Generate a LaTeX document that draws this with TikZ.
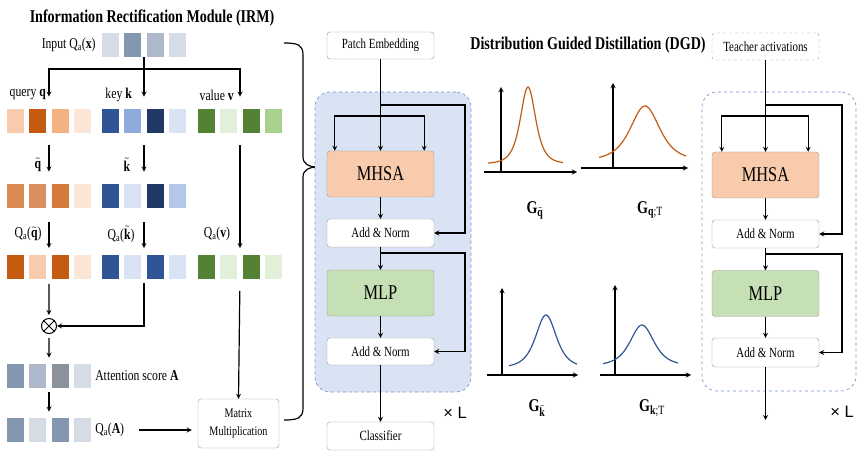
\documentclass[tikz,border=0pt]{standalone}
\usepackage{fontspec}
\setmainfont{Liberation Serif}[FakeStretch=0.78]
\newfontfamily\sansf{Liberation Sans}
\usepackage{xcolor}
\usepackage{tikz}
\usetikzlibrary{arrows,positioning,fit,calc}
\definecolor{or1}{HTML}{F8CBAD}
\definecolor{or2}{HTML}{C55A11}
\definecolor{or3}{HTML}{F4B183}
\definecolor{or4}{HTML}{FBE5D6}
\definecolor{or5}{HTML}{DA8A55}
\definecolor{or6}{HTML}{D98E5E}
\definecolor{or7}{HTML}{D47A3C}
\definecolor{bl1}{HTML}{2F5597}
\definecolor{bl2}{HTML}{8FAADC}
\definecolor{bl3}{HTML}{203864}
\definecolor{bl4}{HTML}{DAE3F3}
\definecolor{bl5}{HTML}{B4C7E7}
\definecolor{gr1}{HTML}{548235}
\definecolor{gr2}{HTML}{E2F0D9}
\definecolor{gr3}{HTML}{A9D18E}
\definecolor{gy1}{HTML}{D6DCE5}
\definecolor{gy2}{HTML}{8497B0}
\definecolor{gy3}{HTML}{ADB9CA}
\definecolor{gy4}{HTML}{8B929C}
\definecolor{regfill}{HTML}{DAE3F3}
\definecolor{regline}{HTML}{7C97C9}
\definecolor{mhsafill}{HTML}{F8CBAD}
\definecolor{mlpfill}{HTML}{C5E0B4}
\newcommand{\tq}{$\tilde{\mbox{\textbf{q}}}$}
\newcommand{\tk}{$\tilde{\mbox{\textbf{k}}}$}

\begin{document}
\begin{tikzpicture}[x=1pt, y=-1pt,
    cell/.style={minimum width=17, minimum height=24, inner sep=0},
    row/.style={inner sep=0},
    lbl/.style={font=\fontsize{15}{17}\selectfont, inner sep=1pt},
    title/.style={font=\fontsize{18}{20}\selectfont\bfseries},
    box/.style={draw=black!40, rounded corners=3, fill=white, minimum width=107, minimum height=28, inner sep=0, font=\fontsize{14}{15}\selectfont},
    block/.style={box, minimum height=46, font=\fontsize{21}{23}\selectfont},
    region/.style={draw=regline, dashed, rounded corners=15, line width=0.7pt},
    times/.style={font=\sansf\fontsize{16.5}{18}\selectfont},
    glbl/.style={font=\fontsize{18}{20}\selectfont},
    arrow/.style={->, >=stealth, line width=1.2pt},
    axis/.style={->, >=stealth, line width=1.3pt},
    qcurve/.style={color=or2, line width=1.2pt},
    kcurve/.style={color=bl1, line width=1.2pt}
]
\useasboundingbox (0,0) rectangle (865,454);

% Information rectification module
\node[title] (irm) at (152,18) {Information Rectification Module (IRM)};
\foreach \c [count=\i] in {gy1,gy2,gy3,gy1} \node[cell, fill=\c] (in\i) at (88.2+22.3*\i,45) {};
\node[row, fit=(in1)(in4)] (inrow) {};
\node[lbl, left=5pt of in1] (inlbl) {Input Q\textsubscript{a}(\textbf{x})};

% query, key, value
\foreach \c [count=\i] in {or1,or2,or3,or4} \node[cell, fill=\c] (q\i) at (-6.8+22.3*\i,121) {};
\foreach \c [count=\i] in {bl1,bl2,bl3,bl4} \node[cell, fill=\c] (k\i) at (88.2+22.3*\i,121) {};
\foreach \c [count=\i] in {gr1,gr2,gr1,gr3} \node[cell, fill=\c] (v\i) at (184.2+22.3*\i,121) {};
\node[row, fit=(q1)(q4)] (qrow) {};
\node[row, fit=(k1)(k4)] (krow) {};
\node[row, fit=(v1)(v4)] (vrow) {};
\node[lbl, anchor=east] (qlbl) at (47,95) {query \textbf{q}};
\node[lbl, anchor=east] (klbl) at (133,95) {key \textbf{k}};
\node[lbl, anchor=east] (vlbl) at (235,95) {value \textbf{v}};

% rectified query and key
\foreach \c [count=\i] in {or5,or6,or7,or4} \node[cell, fill=\c] (qt\i) at (-6.8+22.3*\i,196) {};
\foreach \c [count=\i] in {bl1,bl4,bl3,bl5} \node[cell, fill=\c] (kt\i) at (88.2+22.3*\i,196) {};
\node[row, fit=(qt1)(qt4)] (qtrow) {};
\node[row, fit=(kt1)(kt4)] (ktrow) {};
\node[lbl] (qtlbl) at (38,165) {\tq};
\node[lbl] (ktlbl) at (127,165) {\tk};

% quantized
\foreach \c [count=\i] in {or2,or1,or2,or4} \node[cell, fill=\c] (qa\i) at (-6.8+22.3*\i,267.5) {};
\foreach \c [count=\i] in {bl1,bl4,bl1,bl4} \node[cell, fill=\c] (ka\i) at (88.2+22.3*\i,267.5) {};
\foreach \c [count=\i] in {gr1,gr2,gr1,gr2} \node[cell, fill=\c] (va\i) at (184.2+22.3*\i,267.5) {};
\node[row, fit=(qa1)(qa4)] (qarow) {};
\node[row, fit=(ka1)(ka4)] (karow) {};
\node[row, fit=(va1)(va4)] (varow) {};
\node[lbl] (qalbl) at (28,234) {Q\textsubscript{a}(\tq)};
\node[lbl] (kalbl) at (121,234) {Q\textsubscript{a}(\tk)};
\node[lbl] (valbl) at (217,234) {Q\textsubscript{a}(\textbf{v})};

% attention
\node[circle, draw, minimum size=15, inner sep=0, line width=1pt,
  path picture={\draw[line width=1pt] (path picture bounding box.north west) -- (path picture bounding box.south east)
  (path picture bounding box.north east) -- (path picture bounding box.south west);}] (otimes) at (49,326) {};
\foreach \c [count=\i] in {gy2,gy3,gy4,gy1} \node[cell, fill=\c] (att\i) at (-6.8+22.3*\i,376) {};
\foreach \c [count=\i] in {gy2,gy1,gy2,gy1} \node[cell, fill=\c] (aq\i) at (-6.8+22.3*\i,430) {};
\node[row, fit=(att1)(att4)] (attrow) {};
\node[row, fit=(aq1)(aq4)] (aqrow) {};
\node[lbl, right=3pt of att4] (attlbl) {Attention score \textbf{A}};
\node[lbl, right=3pt of aq4] (aqlbl) {Q\textsubscript{a}(\textbf{A})};
\node[box, minimum width=81, minimum height=49, align=center, font=\fontsize{13}{18}\selectfont] (matmul) at (238.5,423.5) {Matrix\\Multiplication};

\coordinate (sp0) at (inrow.south |- 0,69);
\draw[arrow, shorten >=12pt] (inrow.south) -- (krow.north);
\draw[arrow, shorten >=12pt] (sp0) -| (qrow.north);
\draw[arrow, shorten >=12pt] (sp0) -| (vrow.north);
\draw[arrow, shorten <=12pt, shorten >=12pt] (qrow.south) -- (qtrow.north);
\draw[arrow, shorten <=12pt, shorten >=12pt] (krow.south) -- (ktrow.north);
\draw[arrow, shorten <=14pt, shorten >=7pt] (qtrow.south) -- (qarow.north);
\draw[arrow, shorten <=14pt, shorten >=7pt] (ktrow.south) -- (karow.north);
\draw[arrow, shorten <=12pt, shorten >=7pt] (vrow.south) -- (varow.north);
\draw[arrow, shorten <=4pt, shorten >=3pt] (qarow.south) -- (otimes);
\draw[arrow, shorten <=3pt] (karow.south) |- (otimes);
\draw[arrow, shorten <=4pt, shorten >=6pt] (otimes) -- (attrow.north);
\draw[arrow, shorten <=4pt, shorten >=6pt] (attrow.south) -- (aqrow.north);
\draw[arrow, shorten <=14pt, shorten >=6pt] (aqlbl.east) -- (aqlbl.east -| matmul.west);
\draw[arrow, shorten <=11pt] (varow.south) -- (matmul.north);

% brace
\draw[line width=1.2pt] (284,43) .. controls (298,43) and (303,45) .. (303,55) -- (303,157)
  .. controls (303,164) and (309,167) .. (318,167) .. controls (309,167) and (303,170) .. (303,177)
  -- (303,408) .. controls (303,418) and (298,420) .. (284,420);

% student transformer
\node[region, fill=regfill, minimum width=156, minimum height=300] (sblock) at (393,242) {};
\node[box, minimum height=27] (patch) at (380.5,45.5) {Patch Embedding};
\node[block, fill=mhsafill] (mhsa) at (380.5,174) {MHSA};
\node[box] (an1) at (380.5,233) {Add \& Norm};
\node[block, fill=mlpfill] (mlp) at (380.5,293) {MLP};
\node[box, minimum height=27] (an2) at (380.5,351.5) {Add \& Norm};
\node[box] (cls) at (380.5,436) {Classifier};
\node[times] (xl1) at (455,413) {× L};
\coordinate (sp1) at (patch.south |- 0,105);
\coordinate (sp2) at (patch.south |- 0,116);
\coordinate (sp3) at (an1.south |- 0,253);
\draw[arrow] (patch) -- (mhsa);
\draw[arrow] (sp1) -- ++(84.5,0) |- (an1.east);
\draw[arrow] (sp2) -| ([xshift=8pt]mhsa.north west);
\draw[arrow] (sp2) -| ([xshift=-10pt]mhsa.north east);
\draw[arrow] (mhsa) -- (an1);
\draw[arrow] (an1) -- (mlp);
\draw[arrow] (sp3) -- ++(84.5,0) |- (an2.east);
\draw[arrow] (mlp) -- (an2);
\draw[arrow] (an2) -- (cls);

% distribution guided distillation
\node[title] (dgd) at (588,45) {Distribution Guided Distillation (DGD)};
\draw[axis] (484,172) -- (577,172);
\draw[axis] (501,172) -- (501,87);
\draw[qcurve] plot[domain=488:563, samples=70, smooth] (\x,{164-77/(1+((\x-528)/14)^2)^2});
\draw[axis] (581,168) -- (688,168);
\draw[axis] (613,168) -- (613,83);
\draw[qcurve] plot[domain=599:686, samples=70, smooth] (\x,{161-55/(1+((\x-645)/27)^2)^2});
\draw[axis] (487,375) -- (578,375);
\draw[axis] (502,375) -- (502,288);
\draw[kcurve] plot[domain=509:577, samples=70, smooth] (\x,{368-53/(1+((\x-546)/19)^2)^2});
\draw[axis] (600,375) -- (691,375);
\draw[axis] (615,375) -- (615,285);
\draw[kcurve] plot[domain=603:678, samples=70, smooth] (\x,{366-41/(1+((\x-642)/22)^2)^2});
\node[glbl] (gq) at (535,210) {\textbf{G}\textsubscript{\tq}};
\node[glbl] (gqt) at (650,210) {\textbf{G}\textsubscript{\textbf{q};T}};
\node[glbl] (gk) at (537,408) {\textbf{G}\textsubscript{\tk}};
\node[glbl] (gkt) at (652,408) {\textbf{G}\textsubscript{\textbf{k};T}};

% teacher transformer
\node[region, minimum width=154, minimum height=299] (tblock) at (779,241.5) {};
\node[box, dashed, minimum height=27] (teach) at (765.5,46.5) {Teacher activations};
\node[block, fill=mhsafill] (tmhsa) at (765.5,175) {MHSA};
\node[box] (tan1) at (765.5,234) {Add \& Norm};
\node[block, fill=mlpfill] (tmlp) at (765.5,293.5) {MLP};
\node[box, minimum height=29] (tan2) at (765.5,352.5) {Add \& Norm};
\node[times] (xl2) at (842,412) {× L};
\coordinate (tsp1) at (teach.south |- 0,105);
\coordinate (tsp2) at (teach.south |- 0,116);
\coordinate (tsp3) at (tan1.south |- 0,254);
\coordinate (tout) at (tan2.south |- 0,420);
\draw[arrow] (teach) -- (tmhsa);
\draw[arrow] (tsp1) -- ++(76.5,0) |- (tan1.east);
\draw[arrow] (tsp2) -| ([xshift=10pt]tmhsa.north west);
\draw[arrow] (tsp2) -| ([xshift=-11pt]tmhsa.north east);
\draw[arrow] (tmhsa) -- (tan1);
\draw[arrow] (tan1) -- (tmlp);
\draw[arrow] (tsp3) -- ++(76.5,0) |- (tan2.east);
\draw[arrow] (tmlp) -- (tan2);
\draw[arrow] (tan2) -- (tout);

\end{tikzpicture}
\end{document}
